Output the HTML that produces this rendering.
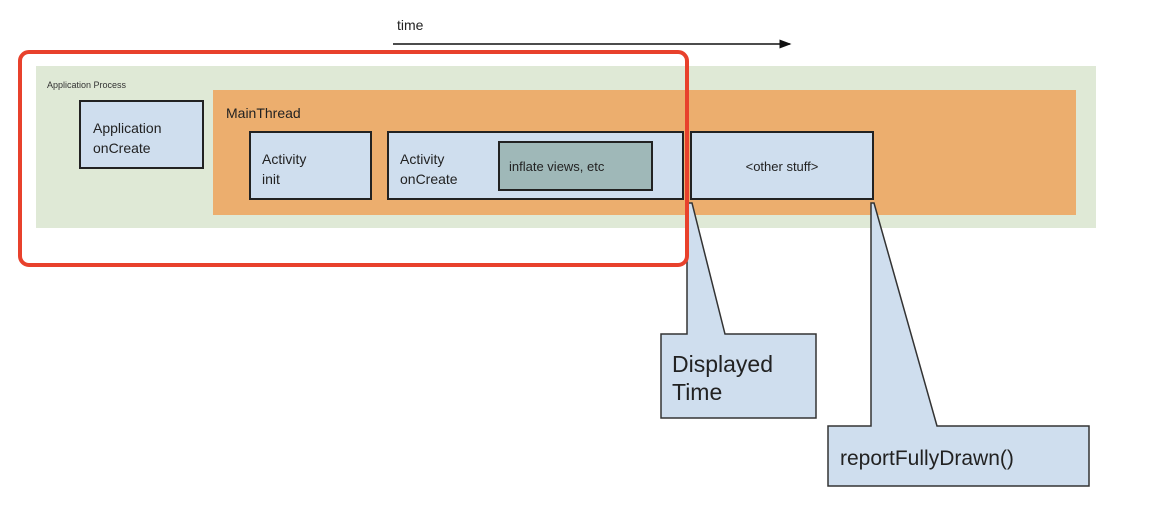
<!DOCTYPE html>
<html><head><style>
body{margin:0;width:1156px;height:528px;background:#fff;overflow:hidden;position:relative;font-family:"Liberation Sans",sans-serif}
.a{position:absolute;box-sizing:border-box}
.b{background:#cfdeee;border:2px solid #222}
</style></head><body>
<div class="a" style="left:397px;top:17px;font-size:14px;color:#222">time</div>
<svg class="a" style="left:0;top:0" width="1156" height="528">
<defs><marker id="ah" markerWidth="8" markerHeight="8" refX="7" refY="4" orient="auto"><path d="M0,1 L8,4 L0,7z" fill="#111"/></marker></defs>
<line x1="393" y1="44" x2="790" y2="44" stroke="#111" stroke-width="1.5" marker-end="url(#ah)"/>
</svg>
<div class="a" style="left:36px;top:66px;width:1060px;height:162px;background:#dfe9d6"></div>
<div class="a" style="left:47px;top:80px;font-size:9px;color:#333">Application Process</div>
<div class="a" style="left:213px;top:90px;width:863px;height:125px;background:#ecae6e"></div>
<div class="a" style="left:226px;top:105px;font-size:14px;color:#222">MainThread</div>
<div class="a b" style="left:79px;top:100px;width:125px;height:69px;padding:16px 0 0 12px;font-size:14px;line-height:20px;color:#222">Application<br>onCreate</div>
<div class="a b" style="left:249px;top:131px;width:123px;height:69px;padding:16px 0 0 11px;font-size:14px;line-height:20px;color:#222">Activity<br>init</div>
<div class="a b" style="left:387px;top:131px;width:297px;height:69px;padding:16px 0 0 11px;font-size:14px;line-height:20px;color:#222">Activity<br>onCreate</div>
<div class="a" style="left:498px;top:141px;width:155px;height:50px;background:#9fb8b8;border:2px solid #222;padding:16px 0 0 9px;font-size:13px;color:#222">inflate views, etc</div>
<div class="a b" style="left:690px;top:131px;width:184px;height:69px;padding:26px 0 0 0;text-align:center;font-size:13px;color:#222">&lt;other stuff&gt;</div>
<svg class="a" style="left:0;top:0" width="1156" height="528">
<polygon points="687,203 692,203 725,334 816,334 816,418 661,418 661,334 687,334" fill="#cfdeee" stroke="#333" stroke-width="1.5"/>
<polygon points="871,203 874,203 937,426 1089,426 1089,486 828,486 828,426 871,426" fill="#cfdeee" stroke="#333" stroke-width="1.5"/>
<rect x="20" y="52" width="667" height="213" rx="9" fill="none" stroke="#e8412c" stroke-width="4"/>
</svg>
<div class="a" style="left:672px;top:350px;font-size:23px;line-height:28px;color:#222">Displayed<br>Time</div>
<div class="a" style="left:840px;top:447px;font-size:21px;color:#222">reportFullyDrawn()</div>
</body></html>
